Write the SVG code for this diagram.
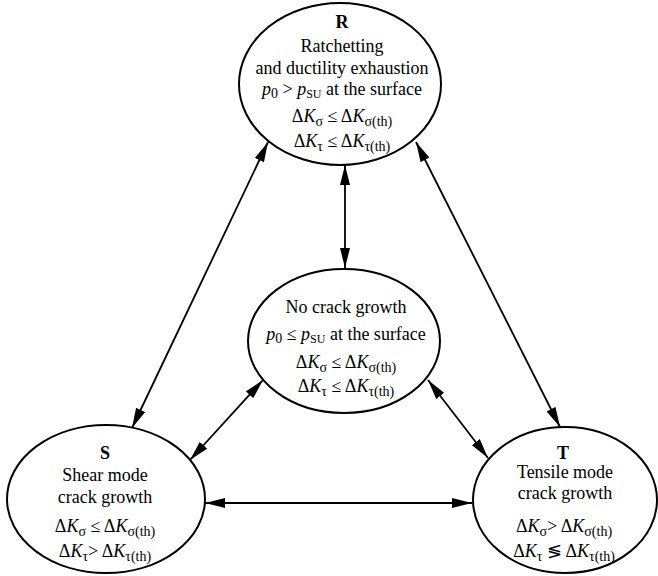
<svg xmlns="http://www.w3.org/2000/svg" width="658" height="576" viewBox="0 0 658 576">
  <style>
    .node { fill: #ffffff; stroke: #000000; stroke-width: 2; }
    .t { font-family: "Liberation Serif", "Times New Roman", serif; font-size: 18px; fill: #000000; text-anchor: middle; }
    .b { font-weight: bold; }
    .i { font-style: italic; }
    .sub { font-size: 14px; }
    .sc { font-size: 12px; }
    .link { stroke: #000000; stroke-width: 1.8; fill: none; marker-start: url(#arrow); marker-end: url(#arrow); }
  </style>
  <defs>
    <marker id="arrow" viewBox="0 0 20 10" refX="20" refY="5" markerWidth="20" markerHeight="10" markerUnits="userSpaceOnUse" orient="auto-start-reverse">
      <path d="M0,0 L20,5 L0,10 z" fill="#000000"/>
    </marker>
  </defs>
  <rect width="658" height="576" fill="#ffffff"/>

  <g id="connectors">
    <line class="link" x1="268" y1="142" x2="132" y2="428"/>
    <line class="link" x1="416" y1="142" x2="560" y2="427"/>
    <line class="link" x1="345" y1="165" x2="345" y2="268"/>
    <line class="link" x1="263" y1="380" x2="190" y2="460"/>
    <line class="link" x1="428" y1="380" x2="488" y2="458"/>
    <line class="link" x1="205" y1="503" x2="472" y2="503"/>
  </g>

  <g id="node-R">
    <ellipse class="node" cx="340" cy="84" rx="101" ry="81"/>
    <text class="t b" x="342" y="28">R</text>
    <text class="t" x="342" y="52">Ratchetting</text>
    <text class="t" x="342" y="74">and ductility exhaustion</text>
    <text class="t" x="342" y="95"><tspan class="i">p</tspan><tspan class="sub" dy="3">0</tspan><tspan dy="-3"> &gt; </tspan><tspan class="i">p</tspan><tspan class="sc" dy="3">SU</tspan><tspan dy="-3"> at the surface</tspan></text>
    <text class="t" x="342" y="122">Δ<tspan class="i">K</tspan><tspan class="sub" dy="4">σ</tspan><tspan dy="-4"> ≤ Δ</tspan><tspan class="i">K</tspan><tspan class="sub" dy="4">σ(th)</tspan></text>
    <text class="t" x="342" y="147">Δ<tspan class="i">K</tspan><tspan class="sub" dy="4">τ</tspan><tspan dy="-4"> ≤ Δ</tspan><tspan class="i">K</tspan><tspan class="sub" dy="4">τ(th)</tspan></text>
  </g>

  <g id="node-C">
    <ellipse class="node" cx="344" cy="341" rx="96" ry="72"/>
    <text class="t" x="346" y="313">No crack growth</text>
    <text class="t" x="346" y="340"><tspan class="i">p</tspan><tspan class="sub" dy="3">0</tspan><tspan dy="-3">  ≤ </tspan><tspan class="i">p</tspan><tspan class="sc" dy="3">SU</tspan><tspan dy="-3"> at the surface</tspan></text>
    <text class="t" x="346" y="368">Δ<tspan class="i">K</tspan><tspan class="sub" dy="4">σ</tspan><tspan dy="-4"> ≤ Δ</tspan><tspan class="i">K</tspan><tspan class="sub" dy="4">σ(th)</tspan></text>
    <text class="t" x="346" y="392">Δ<tspan class="i">K</tspan><tspan class="sub" dy="4">τ</tspan><tspan dy="-4"> ≤ Δ</tspan><tspan class="i">K</tspan><tspan class="sub" dy="4">τ(th)</tspan></text>
  </g>

  <g id="node-S">
    <ellipse class="node" cx="106" cy="499" rx="99" ry="74"/>
    <text class="t b" x="105" y="459">S</text>
    <text class="t" x="105" y="481">Shear mode</text>
    <text class="t" x="105" y="503">crack growth</text>
    <text class="t" x="105" y="532">Δ<tspan class="i">K</tspan><tspan class="sub" dy="4">σ</tspan><tspan dy="-4"> ≤ Δ</tspan><tspan class="i">K</tspan><tspan class="sub" dy="4">σ(th)</tspan></text>
    <text class="t" x="105" y="557">Δ<tspan class="i">K</tspan><tspan class="sub" dy="4">τ</tspan><tspan dy="-4">&gt; Δ</tspan><tspan class="i">K</tspan><tspan class="sub" dy="4">τ(th)</tspan></text>
  </g>

  <g id="node-T">
    <ellipse class="node" cx="565" cy="500" rx="92" ry="73"/>
    <text class="t b" x="563" y="459">T</text>
    <text class="t" x="565" y="478">Tensile mode</text>
    <text class="t" x="565" y="499">crack growth</text>
    <text class="t" x="564" y="532">Δ<tspan class="i">K</tspan><tspan class="sub" dy="4">σ</tspan><tspan dy="-4">&gt; Δ</tspan><tspan class="i">K</tspan><tspan class="sub" dy="4">σ(th)</tspan></text>
    <text class="t" x="564" y="557">Δ<tspan class="i">K</tspan><tspan class="sub" dy="4">τ</tspan><tspan dy="-4"> ≶ Δ</tspan><tspan class="i">K</tspan><tspan class="sub" dy="4">τ(th)</tspan></text>
  </g>
</svg>
